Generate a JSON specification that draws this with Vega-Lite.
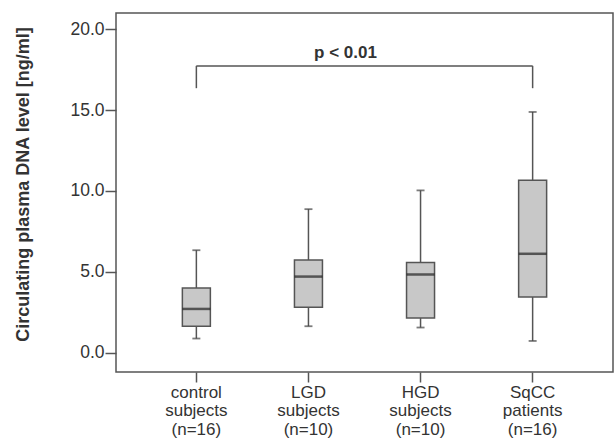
{
  "$schema": "https://vega.github.io/schema/vega-lite/v6.json",
  "width": 497,
  "height": 359,
  "autosize": {"type": "none"},
  "padding": {"left": 116, "top": 13, "right": 1, "bottom": 68},
  "background": "white",
  "config": {
    "view": {"stroke": "#555", "strokeWidth": 1.5},
    "font": "Liberation Sans",
    "axis": {"labelFont": "Liberation Sans", "titleFont": "Liberation Sans", "labelColor": "#333", "titleColor": "#333", "tickColor": "#555", "tickWidth": 1.5, "grid": false, "domain": false}
  },
  "datasets": {
    "boxes": [
      {"group": "control|subjects|(n=16)", "lo": 0.87, "q1": 1.63, "med": 2.7, "q3": 4.0, "hi": 6.33},
      {"group": "LGD|subjects|(n=10)", "lo": 1.63, "q1": 2.8, "med": 4.7, "q3": 5.72, "hi": 8.87},
      {"group": "HGD|subjects|(n=10)", "lo": 1.55, "q1": 2.14, "med": 4.83, "q3": 5.57, "hi": 10.03},
      {"group": "SqCC|patients|(n=16)", "lo": 0.72, "q1": 3.44, "med": 6.11, "q3": 10.65, "hi": 14.88}
    ],
    "bracket": [
      {"a": "control|subjects|(n=16)", "b": "SqCC|patients|(n=16)", "y1": 17.73, "y2": 17.73},
      {"a": "control|subjects|(n=16)", "b": "control|subjects|(n=16)", "y1": 16.35, "y2": 17.73},
      {"a": "SqCC|patients|(n=16)", "b": "SqCC|patients|(n=16)", "y1": 16.35, "y2": 17.73}
    ],
    "label": [
      {"group": "LGD|subjects|(n=10)", "y": 18.55, "text": "p < 0.01"}
    ]
  },
  "encoding": {
    "x": {
      "field": "group", "type": "nominal", "sort": null,
      "scale": {"domain": ["control|subjects|(n=16)", "LGD|subjects|(n=10)", "HGD|subjects|(n=10)", "SqCC|patients|(n=16)"], "paddingInner": 0, "paddingOuter": 0.217},
      "axis": {"title": null, "labelAngle": 0, "labelExpr": "split(datum.value, '|')", "labelFontSize": 17, "labelLineHeight": 18.5, "tickSize": 10, "labelPadding": 2, "labelBaseline": "top"}
    }
  },
  "layer": [
    {
      "data": {"name": "boxes"},
      "mark": {"type": "rule", "color": "#555", "strokeWidth": 1.5},
      "encoding": {
        "y": {"field": "lo", "type": "quantitative", "scale": {"domain": [-1.2, 21], "nice": false, "zero": false},
          "axis": {"title": "Circulating plasma DNA level [ng/ml]", "values": [0, 5, 10, 15, 20], "format": ".1f", "labelFontSize": 17.5, "tickSize": 11, "labelPadding": 1, "titleFontSize": 18, "titleFontWeight": "bold", "titleX": -84, "titleY": 171}},
        "y2": {"field": "hi"}
      }
    },
    {
      "data": {"name": "boxes"},
      "mark": {"type": "bar", "fill": "#c8c8c8", "stroke": "#555", "strokeWidth": 1.5, "width": 28},
      "encoding": {
        "y": {"field": "q1", "type": "quantitative"},
        "y2": {"field": "q3"}
      }
    },
    {
      "data": {"name": "boxes"},
      "mark": {"type": "tick", "color": "#222", "size": 28, "thickness": 2.5},
      "encoding": {"y": {"field": "med", "type": "quantitative"}}
    },
    {
      "data": {"name": "boxes"},
      "mark": {"type": "tick", "color": "#444", "size": 8, "thickness": 1.8},
      "encoding": {"y": {"field": "lo", "type": "quantitative"}}
    },
    {
      "data": {"name": "boxes"},
      "mark": {"type": "tick", "color": "#444", "size": 8, "thickness": 1.8},
      "encoding": {"y": {"field": "hi", "type": "quantitative"}}
    },
    {
      "data": {"name": "bracket"},
      "mark": {"type": "rule", "color": "#555", "strokeWidth": 1.5},
      "encoding": {
        "x": {"field": "a", "type": "nominal"},
        "x2": {"field": "b"},
        "y": {"field": "y1", "type": "quantitative"},
        "y2": {"field": "y2"}
      }
    },
    {
      "data": {"name": "label"},
      "mark": {"type": "text", "fontSize": 17, "fontWeight": "bold", "color": "#333", "dx": 37},
      "encoding": {
        "y": {"field": "y", "type": "quantitative"},
        "text": {"field": "text"}
      }
    }
  ]
}
